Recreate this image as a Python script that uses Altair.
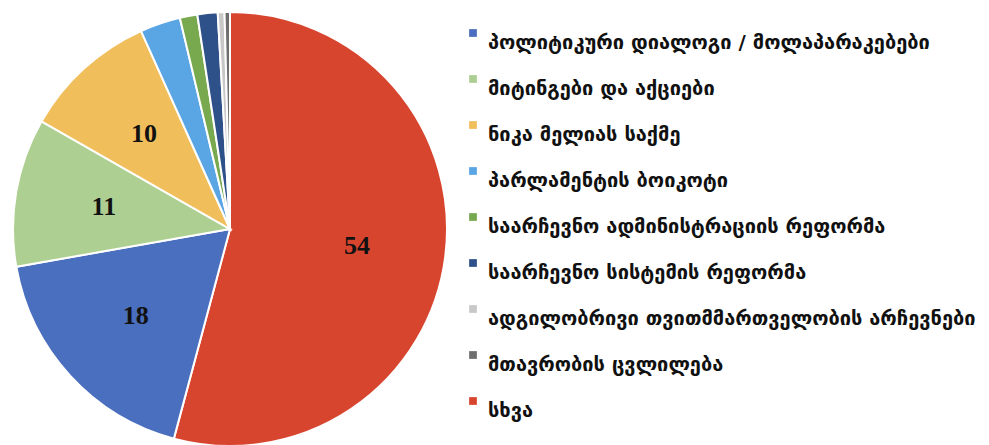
import altair as alt
import pandas as pd

# slices in clockwise order starting at 12 o'clock
categories = [
    "სხვა",
    "პოლიტიკური დიალოგი / მოლაპარაკებები",
    "მიტინგები და აქციები",
    "ნიკა მელიას საქმე",
    "პარლამენტის ბოიკოტი",
    "საარჩევნო ადმინისტრაციის რეფორმა",
    "საარჩევნო სისტემის რეფორმა",
    "ადგილობრივი თვითმმართველობის არჩევნები",
    "მთავრობის ცვლილება",
]
values = [54, 18, 11, 10, 3, 1.3, 1.5, 0.5, 0.4]
colors = ["#D8452F", "#4A6FBF", "#AECF92", "#F1BE5C", "#5AA5E4",
          "#78A94F", "#2E5189", "#C8C8C8", "#6E6E6E"]
labels = ["54", "18", "11", "10", "", "", "", "", ""]

# legend order (სხვა last)
legend_order = categories[1:] + categories[:1]
legend_colors = colors[1:] + colors[:1]

df = pd.DataFrame({
    "cat": categories,
    "value": values,
    "label": labels,
    "ord": list(range(len(categories))),
})

base = alt.Chart(df).encode(
    theta=alt.Theta("value:Q", stack=True),
    order=alt.Order("ord:Q"),
)

pie = base.mark_arc(radius=217, stroke="white", strokeWidth=2).encode(
    color=alt.Color(
        "cat:N",
        scale=alt.Scale(domain=legend_order, range=legend_colors),
        legend=alt.Legend(
            title=None,
            orient="none",
            legendX=455,
            legendY=13,
            symbolType="square",
            symbolSize=60,
            symbolStrokeWidth=0,
            labelFont="DejaVu Sans",
            labelFontWeight="bold",
            labelFontSize=20,
            labelColor="#111111",
            labelLimit=600,
            labelBaseline="top",
            labelOffset=5,
            rowPadding=16,
        ),
    ),
)

text = base.mark_text(
    radius=128, font="Liberation Serif", fontWeight="bold", fontSize=26, color="#111111"
).encode(text="label:N")

chart = (pie + text).properties(
    width=444, height=438, padding=0
).configure_view(stroke=None)

chart.save("out.html", embed_options={"renderer": "svg", "actions": False})
